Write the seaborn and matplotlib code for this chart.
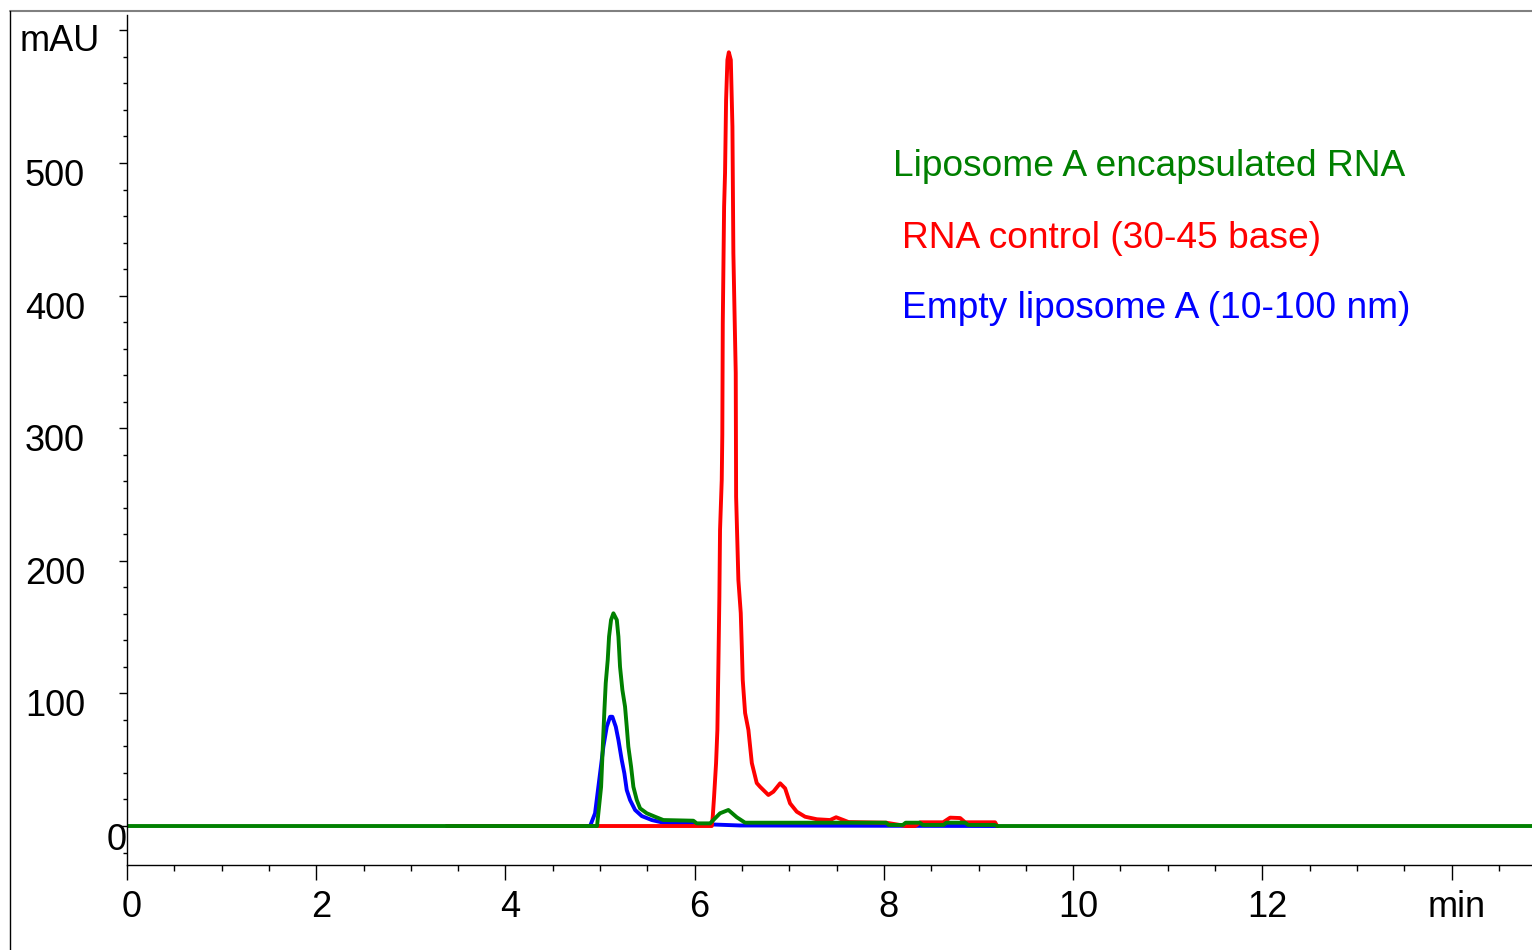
import matplotlib
matplotlib.use("Agg")
import matplotlib.pyplot as plt
import matplotlib.transforms as mtransforms
from matplotlib.lines import Line2D
import seaborn as sns
import pandas as pd

# ---------------- data ----------------
green_t = [0.0, 4.968, 4.982, 5.011, 5.035, 5.046, 5.060, 5.081, 5.095, 5.116, 5.141,
           5.177, 5.194, 5.211, 5.236, 5.264, 5.282, 5.299, 5.328, 5.352, 5.388, 5.423,
           5.494, 5.581, 5.669, 5.986, 6.022, 6.163, 6.268, 6.356, 6.445, 6.533, 8.023,
           8.05, 8.20, 8.23, 8.38, 8.41, 8.63, 8.66, 8.86, 8.89, 9.17, 9.20, 14.85]
green_v = [0.0, 0.0, 9.6, 29.6, 69.9, 87.5, 107.8, 125.2, 142.8, 155.4, 160.4,
           155.4, 142.8, 120.1, 102.6, 90.0, 74.9, 59.8, 44.7, 29.6, 19.6, 13.3,
           9.6, 7.0, 4.5, 4.0, 2.0, 2.0, 9.6, 12.1, 6.6, 2.5, 2.5,
           0.8, 0.8, 2.5, 2.5, 0.8, 0.8, 2.5, 2.5, 0.8, 0.8, 0.0, 0.0]

blue_t = [3.38, 4.895, 4.912, 4.947, 5.000, 5.035, 5.071, 5.106, 5.130, 5.166, 5.194, 5.229,
          5.257, 5.282, 5.317, 5.370, 5.441, 5.547, 5.669, 6.057, 6.480, 9.20]
blue_v = [0.0, 0.0, 3.2, 9.6, 39.7, 59.8, 74.9, 82.4, 82.4, 74.9, 64.9, 49.8,
          39.7, 27.1, 19.6, 12.1, 7.5, 4.5, 2.5, 1.5, 0.4, 0.0]

red_t = [3.38, 6.181, 6.191, 6.205, 6.226, 6.240, 6.251, 6.261, 6.268, 6.286, 6.292,
         6.297, 6.311, 6.321, 6.332, 6.346, 6.361, 6.382, 6.399, 6.409, 6.420, 6.434,
         6.438, 6.462, 6.487, 6.498, 6.508, 6.533, 6.568, 6.604, 6.656, 6.691, 6.779,
         6.832, 6.903, 6.956, 7.008, 7.079, 7.167, 7.291, 7.431, 7.495, 7.572, 7.625,
         8.023, 8.235, 8.330, 8.383, 8.626, 8.700, 8.806, 8.858, 9.175, 9.197]
red_v = [0.0, 0.0, 7.0, 22.1, 47.3, 72.4, 122.7, 172.9, 223.2, 260.9, 294.9,
         379.3, 467.0, 492.5, 547.5, 577.7, 583.5, 577.7, 527.4, 432.1, 391.6, 341.6,
         248.3, 185.5, 160.6, 135.2, 110.1, 85.2, 72.4, 47.5, 32.4, 29.6, 23.4,
         25.9, 32.2, 28.4, 17.1, 10.8, 7.0, 5.1, 4.5, 6.6, 4.5, 3.0,
         2.5, 0.0, 0.0, 2.8, 2.8, 6.3, 6.0, 2.8, 2.8, 0.0]

series_names = ["Liposome A encapsulated RNA", "RNA control (30-45 base)",
                "Empty liposome A (10-100 nm)"]
series_colors = ["#008000", "#ff0000", "#0000ff"]

x_ticks = [0, 2, 4, 6, 8, 10, 12, 14]
x_labels = ["0", "2", "4", "6", "8", "10", "12", "min"]
y_ticks = [0, 100, 200, 300, 400, 500, 600]
y_labels = ["0", "100", "200", "300", "400", "500", "mAU"]

# ---------------- style ----------------
sns.set_theme(style="white")
plt.rcParams["font.family"] = ["Liberation Sans", "DejaVu Sans"]
FS = 26
FS_LEG = 26.7

W, H = 1532, 950
fig = plt.figure(figsize=(W / 100, H / 100), dpi=100)
fig.patch.set_facecolor("white")
ax = fig.add_axes([127 / W, 85 / H, (W - 127) / W, 850 / H])
ax.set_facecolor("white")

df_b = pd.DataFrame({"t": blue_t, "v": blue_v})
df_r = pd.DataFrame({"t": red_t, "v": red_v})
df_g = pd.DataFrame({"t": green_t, "v": green_v})
for df, col in [(df_b, series_colors[2]), (df_r, series_colors[1]), (df_g, series_colors[0])]:
    sns.lineplot(data=df, x="t", y="v", color=col, linewidth=2.8, estimator=None,
                 sort=False, ax=ax)

ax.set_xlim(0, 14.85)
ax.set_ylim(-29.4, 611.6)
ax.set_xlabel("")
ax.set_ylabel("")

for s in ["top", "right"]:
    ax.spines[s].set_visible(False)
for s in ["left", "bottom"]:
    ax.spines[s].set_color("black")
    ax.spines[s].set_linewidth(1.0)

ax.set_xticks(x_ticks)
ax.set_xticks([i * 0.5 for i in range(0, 30)], minor=True)
ax.set_yticks(y_ticks)
ax.set_yticks([-20 + 20 * i for i in range(0, 32)], minor=True)
ax.tick_params(axis="x", which="major", direction="out", length=10.8, width=1, color="black",
               labelbottom=False, bottom=True)
ax.tick_params(axis="x", which="minor", direction="out", length=4.3, width=1, color="black",
               bottom=True)
ax.tick_params(axis="y", which="major", direction="out", length=5.8, width=1, color="black",
               labelleft=False, left=True)
ax.tick_params(axis="y", which="minor", direction="out", length=2.9, width=1, color="black",
               left=True)
ax.grid(False)

# tick labels as text
for xv, lab in zip(x_ticks, x_labels):
    off = mtransforms.ScaledTranslation(5 / 100, -52 / 100, fig.dpi_scale_trans)
    ax.text(xv, 0, lab, transform=ax.get_xaxis_transform() + off, ha="center",
            va="baseline", fontsize=FS, color="black", clip_on=False)

for yv, lab in zip(y_ticks, y_labels):
    if lab == "0":
        dx, dy = 0, -24
    elif lab == "mAU":
        dx, dy = -27, -21
    else:
        dx, dy = -42, -23
    off = mtransforms.ScaledTranslation(dx / 100, dy / 100, fig.dpi_scale_trans)
    ax.text(0, yv, lab, transform=ax.get_yaxis_transform() + off, ha="right",
            va="baseline", fontsize=FS, color="black", clip_on=False)

# legend-like labels
legend_pos = [(893, 176), (902, 248), (902, 318)]
for (px, py), name, col in zip(legend_pos, series_names, series_colors):
    fig.text(px / W, 1 - py / H, name, color=col, fontsize=FS_LEG, ha="left", va="baseline")

# outer frame
fig.add_artist(Line2D([9.5 / W, 1.0], [1 - 10.5 / H, 1 - 10.5 / H], color="#808080",
                      lw=1.5, transform=fig.transFigure))
fig.add_artist(Line2D([9.5 / W, 9.5 / W], [1 - 10.5 / H, 0], color="black",
                      lw=1.0, transform=fig.transFigure))

fig.savefig("out.png", dpi=100, facecolor="white")
